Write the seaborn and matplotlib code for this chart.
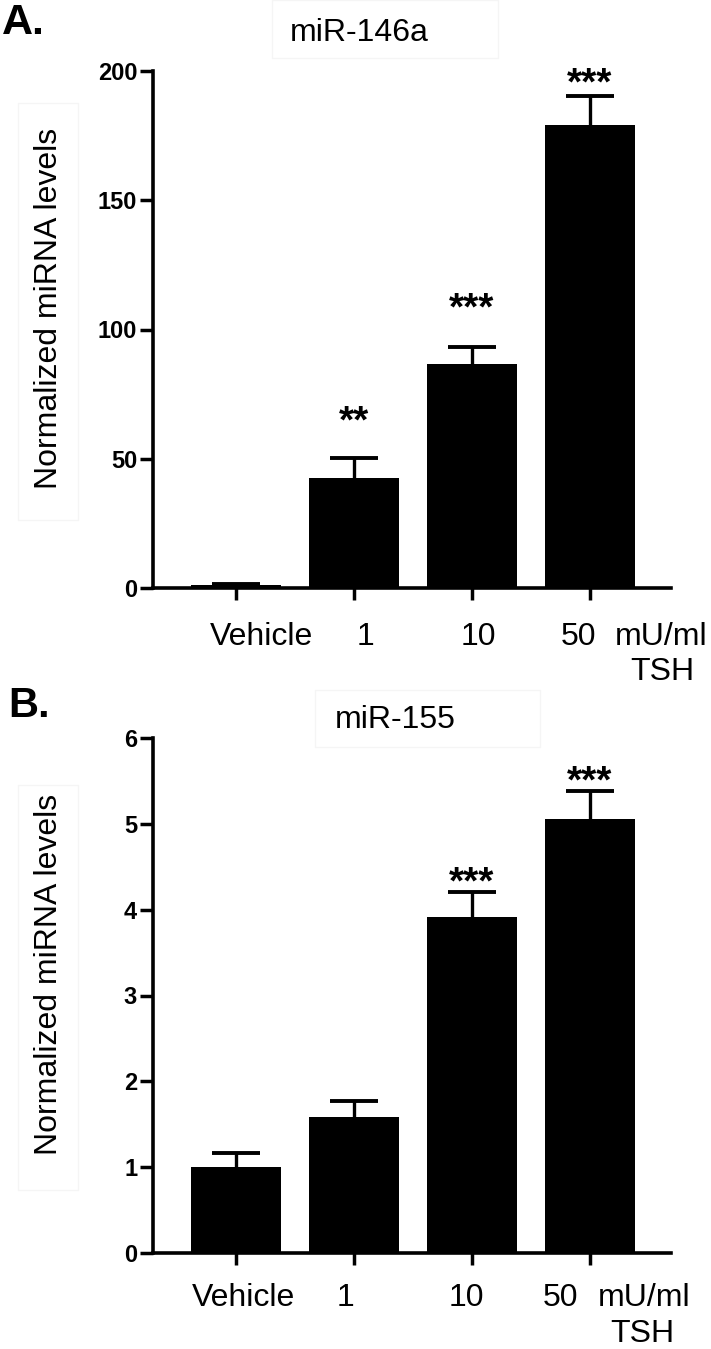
import numpy as np
import pandas as pd
import seaborn as sns
import matplotlib.pyplot as plt
from matplotlib.patches import Rectangle
from matplotlib.transforms import offset_copy

sns.set_style("ticks", {'axes.edgecolor': 'black', 'xtick.color': 'black',
                        'ytick.color': 'black', 'text.color': 'black',
                        'axes.labelcolor': 'black'})
plt.rcParams['font.family'] = ['Liberation Sans', 'DejaVu Sans']

groups = ['Vehicle', '1', '10', '50']

mir146_mean = [1.0, 42.6, 86.8, 179.2]
mir146_sem = [0.4, 7.8, 6.3, 11.0]
mir146_stars = ['', '**', '***', '***']
mir146_star_y = [0, 67, 111, 198]

mir155_mean = [1.0, 1.59, 3.92, 5.06]
mir155_sem = [0.17, 0.18, 0.29, 0.32]
mir155_stars = ['', '', '***', '***']
mir155_star_y = [0, 0, 4.40, 5.58]

W, H = 711, 1349
fig = plt.figure(figsize=(W / 100, H / 100), dpi=100)


def px_box(x0, y0, x1, y1):
    return [x0 / W, 1 - y1 / H, (x1 - x0) / W, (y1 - y0) / H]


def draw_panel(ax, means, sems, stars, star_y, ymax, yticks, lab_x, lab_y, tsh_x, tsh_y):
    df = pd.DataFrame({'dose': groups, 'level': means})
    sns.barplot(data=df, x='dose', y='level', color='black', width=0.76,
                saturation=1, linewidth=0, ax=ax, zorder=2)
    # upper error bars only (mean + SEM), as drawn in the original
    x = np.arange(len(groups))
    tops = np.array(means) + np.array(sems)
    ax.vlines(x, means, tops, color='black', linewidth=2.4, zorder=1)
    ax.hlines(tops, x - 0.205, x + 0.205, color='black', linewidth=2.8, zorder=1)
    for i, s in enumerate(stars):
        if s:
            ax.text(i, star_y[i], s, ha='center', va='center', fontsize=28,
                    fontweight='bold',
                    transform=offset_copy(ax.transData, fig=fig, y=-8, units='dots'))
    ax.set_xlim(-0.703, 3.686)
    ax.set_ylim(0, ymax)
    ax.set_yticks(yticks)
    ax.set_yticklabels([str(t) for t in yticks], fontsize=17, fontweight='bold')
    ax.set_xticks(range(len(groups)))
    ax.set_xticklabels([''] * len(groups))
    ax.set_xlabel('')
    ax.set_ylabel('Normalized miRNA levels', fontsize=23)
    ax.yaxis.set_label_coords(-0.172, 0.54)
    sns.despine(ax=ax)
    for side in ['left', 'bottom']:
        ax.spines[side].set_linewidth(2.6)
    ax.tick_params(axis='y', length=9.4, width=2.5, pad=2)
    ax.tick_params(axis='x', length=8.6, width=2.5)
    tr = ax.get_xaxis_transform()
    for i, g in enumerate(groups):
        ax.text(lab_x[i], lab_y, g, ha='center', va='center', fontsize=23, transform=tr)
    ax.text(lab_x[4], lab_y, 'mU/ml', ha='left', va='center', fontsize=23, transform=tr)
    ax.text(tsh_x, tsh_y, 'TSH', ha='center', va='center', fontsize=23, transform=tr)


ax_a = fig.add_axes(px_box(153, 71, 671, 588))
draw_panel(ax_a, mir146_mean, mir146_sem, mir146_stars, mir146_star_y, 200,
           [0, 50, 100, 150, 200], [0.22, 1.10, 2.05, 2.90, 3.21], -0.095, 3.61, -0.162)

ax_b = fig.add_axes(px_box(153, 738, 671, 1253))
draw_panel(ax_b, mir155_mean, mir155_sem, mir155_stars, mir155_star_y, 6,
           [0, 1, 2, 3, 4, 5, 6], [0.06, 0.93, 1.95, 2.75, 3.07], -0.087, 3.44, -0.157)

# faint frames around titles and y labels, as in the original figure
for x0, y0, x1, y1 in [(272, 0, 498, 58), (315, 690, 540, 747),
                       (18, 103, 78, 520), (18, 785, 78, 1190)]:
    b = px_box(x0, y0, x1, y1)
    fig.patches.append(Rectangle((b[0], b[1]), b[2], b[3], transform=fig.transFigure,
                                 fill=False, edgecolor='#f5f5f5', linewidth=1))

fig.text(359 / W, 1 - 33 / H, 'miR-146a', ha='center', va='center', fontsize=23)
fig.text(395 / W, 1 - 720 / H, 'miR-155', ha='center', va='center', fontsize=23)
fig.text(2 / W, 1 - 23 / H, 'A.', ha='left', va='center', fontsize=31, fontweight='bold')
fig.text(8 / W, 1 - 706 / H, 'B.', ha='left', va='center', fontsize=30, fontweight='bold')

fig.savefig('out.png', dpi=100)
